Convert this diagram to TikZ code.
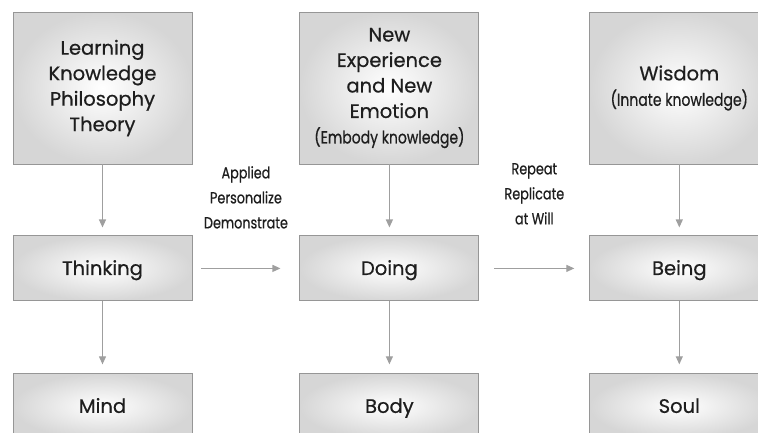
\documentclass[tikz,border=0pt]{standalone}
\usepackage{fontspec}
\setmainfont{Poppins}[FakeBold=0.6]
\newfontfamily\condfont{Poppins}[FakeStretch=0.8, FakeBold=0.6]
\usetikzlibrary{positioning,arrows.meta}
\definecolor{BoxLine}{RGB}{150,150,150}
\definecolor{InkGray}{RGB}{30,30,30}
\newcommand{\subnote}[1]{{\condfont\fontsize{17.5}{25}\selectfont #1}}

\begin{document}
\begin{tikzpicture}[x=1pt, y=-1pt,
  box/.style={draw=BoxLine, line width=0.9pt, inner color=white, outer color=gray!32, minimum width=179pt, align=center, text=InkGray, font=\fontsize{19.5}{25.5}\selectfont},
  bigbox/.style={box, minimum height=152pt},
  smallbox/.style={box, minimum height=65pt, text height=3ex, text depth=0.6ex},
  lbl/.style={align=center, text=InkGray, font=\condfont\fontsize{16}{25}\selectfont},
  arr/.style={-{Triangle[width=7pt,length=8pt]}, draw=gray!75, line width=1.1pt}]
  \useasboundingbox (0,0) rectangle (758,432);
  \clip (0,0) rectangle (758,432);
  % top row
  \node[bigbox] (learn) at (102.5,88) {Learning\\Knowledge\\Philosophy\\Theory};
  \node[bigbox, right=107pt of learn] (newexp) {New\\Experience\\and New\\Emotion\\\subnote{(Embody knowledge)}};
  \node[bigbox, right=110pt of newexp] (wisdom) {Wisdom\\\subnote{(Innate knowledge)}};
  % middle row
  \node[smallbox, below=71pt of learn] (think) {Thinking};
  \node[smallbox, below=71pt of newexp] (doing) {Doing};
  \node[smallbox, below=71pt of wisdom] (being) {Being};
  % bottom row
  \node[smallbox, below=72pt of think] (mind) {Mind};
  \node[smallbox, below=72pt of doing] (body) {Body};
  \node[smallbox, below=72pt of being] (soul) {Soul};
  % arrows
  \draw[arr, shorten >=8pt] (learn) -- (think);
  \draw[arr, shorten >=8pt] (newexp) -- (doing);
  \draw[arr, shorten >=8pt] (wisdom) -- (being);
  \draw[arr, shorten >=9pt] (think) -- (mind);
  \draw[arr, shorten >=9pt] (doing) -- (body);
  \draw[arr, shorten >=9pt] (being) -- (soul);
  \draw[arr, shorten <=9pt, shorten >=19pt] (think) -- node[lbl, above=36pt] (apply) {Applied\\Personalize\\Demonstrate} (doing);
  \draw[arr, shorten <=15pt, shorten >=15pt] (doing) -- node[lbl, above=40pt] (repeat) {Repeat\\Replicate\\at Will} (being);
\end{tikzpicture}
\end{document}
